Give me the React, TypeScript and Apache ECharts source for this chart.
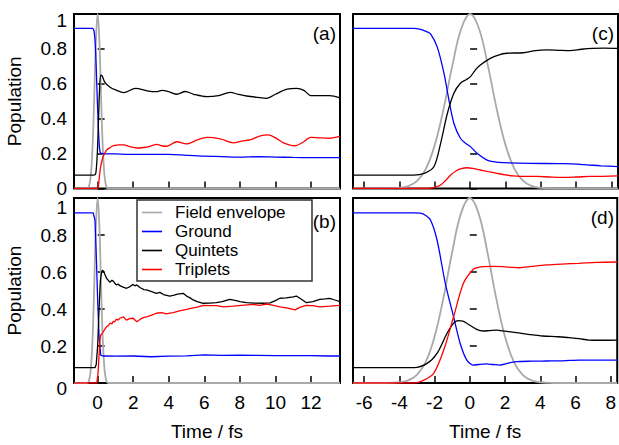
import React, { useEffect, useRef } from "react";
import * as echarts from "echarts";

const FONT = "'Liberation Sans', Arial, Helvetica, sans-serif";

// axis ranges / ticks
const leftRange = [-1.33, 13.63];
const rightRange = [-6.63, 8.37];
const leftTicks = [0, 2, 4, 6, 8, 10, 12];
const rightTicks = [-6, -4, -2, 0, 2, 4, 6, 8];
const seriesNames = ["Field envelope", "Ground", "Quintets", "Triplets"];
const panelLabels = ["(a)", "(b)", "(c)", "(d)"];

// narrow pulse envelope (left panels)
const envLeft = [
  [-1.33, 0], [-0.6, 0], [-0.5, 0.01], [-0.4, 0.06], [-0.3, 0.21], [-0.2, 0.5], [-0.1, 0.84], [0, 1],
  [0.1, 0.84], [0.2, 0.5], [0.3, 0.21], [0.4, 0.06], [0.5, 0.01], [0.6, 0], [13.63, 0],
];
// broad pulse envelope (right panels)
const envRight = [
  [-6.63, 0], [-5, 0], [-4.5, 0.001], [-4, 0.004], [-3.5, 0.014], [-3, 0.044], [-2.5, 0.114], [-2, 0.25],
  [-1.5, 0.458], [-1, 0.707], [-0.5, 0.917], [0, 1], [0.5, 0.917], [1, 0.707], [1.5, 0.458], [2, 0.25],
  [2.5, 0.114], [3, 0.044], [3.5, 0.014], [4, 0.004], [4.5, 0.001], [5, 0], [8.37, 0],
];

// panel (a)
const aGround = [
  [-1.33, 0.918], [-0.3, 0.918], [-0.2, 0.9], [-0.12, 0.8], [-0.05, 0.6], [0.02, 0.4], [0.08, 0.27],
  [0.15, 0.205], [0.3, 0.2], [1, 0.198], [2, 0.195], [3, 0.195], [4, 0.196], [5, 0.19], [6, 0.185],
  [7, 0.183], [8, 0.18], [9, 0.182], [10, 0.18], [11, 0.178], [12, 0.177], [13, 0.177], [13.63, 0.177],
];
const aQuintets = [
  [-1.33, 0.077], [-0.2, 0.077], [-0.1, 0.09], [-0.02, 0.2], [0.05, 0.4], [0.1, 0.55], [0.17, 0.65],
  [0.25, 0.645], [0.4, 0.61], [0.7, 0.58], [1.0, 0.565], [1.47, 0.549], [2.13, 0.574], [2.78, 0.56],
  [3.3, 0.555], [3.62, 0.562], [4.0, 0.555], [4.46, 0.54], [4.93, 0.556], [5.4, 0.54], [6.14, 0.526],
  [6.8, 0.532], [7.45, 0.551], [7.9, 0.54], [8.38, 0.53], [9.0, 0.522], [9.5, 0.517], [10.0, 0.54],
  [10.6, 0.568], [11.2, 0.574], [11.6, 0.562], [12.0, 0.532], [12.5, 0.532], [13.05, 0.532], [13.63, 0.52],
];
const aTriplets = [
  [-1.33, 0], [0.0, 0], [0.05, 0.02], [0.1, 0.07], [0.17, 0.125], [0.3, 0.18], [0.5, 0.22], [0.7, 0.235],
  [0.9, 0.245], [1.2, 0.25], [1.47, 0.25], [1.8, 0.24], [2.2, 0.232], [2.6, 0.235], [2.95, 0.242],
  [3.33, 0.253], [3.6, 0.245], [3.89, 0.242], [4.45, 0.268], [5.0, 0.256], [5.6, 0.278], [6.14, 0.293],
  [6.9, 0.285], [7.63, 0.262], [8.1, 0.272], [8.56, 0.278], [9.1, 0.3], [9.6, 0.307], [10.0, 0.29],
  [10.45, 0.262], [11.1, 0.245], [11.5, 0.262], [12.0, 0.293], [12.5, 0.29], [13.05, 0.288], [13.63, 0.3],
];

// panel (b)
const bGround = [
  [-1.33, 0.92], [-0.25, 0.92], [-0.15, 0.88], [-0.08, 0.7], [0, 0.45], [0.08, 0.25], [0.17, 0.151],
  [0.3, 0.146], [1, 0.145], [2, 0.146], [3, 0.142], [4, 0.145], [5, 0.147], [6, 0.152], [7, 0.149],
  [8, 0.15], [9, 0.149], [10, 0.148], [11, 0.148], [12, 0.148], [13, 0.146], [13.63, 0.146],
];
const bQuintets = [
  [-1.33, 0.083], [-0.15, 0.083], [-0.08, 0.1], [0, 0.2], [0.08, 0.4], [0.15, 0.55], [0.22, 0.6],
  [0.28, 0.61], [0.35, 0.6], [0.5, 0.566], [0.6, 0.555], [0.69, 0.544], [0.8, 0.555], [0.88, 0.551],
  [1.0, 0.535], [1.06, 0.53], [1.15, 0.535], [1.25, 0.526], [1.4, 0.52], [1.62, 0.512], [1.8, 0.52],
  [2.0, 0.533], [2.1, 0.525], [2.2, 0.53], [2.4, 0.515], [2.6, 0.505], [2.75, 0.503], [3.0, 0.495],
  [3.3, 0.485], [3.5, 0.49], [3.7, 0.478], [4.06, 0.47], [4.3, 0.475], [4.5, 0.48], [4.81, 0.485],
  [5.0, 0.47], [5.2, 0.46], [5.37, 0.449], [5.6, 0.44], [5.93, 0.431], [6.3, 0.432], [6.68, 0.434],
  [7.0, 0.44], [7.43, 0.452], [7.8, 0.445], [8.0, 0.44], [8.37, 0.434], [8.8, 0.432], [9.3, 0.431],
  [9.7, 0.433], [10.0, 0.445], [10.25, 0.458], [10.6, 0.46], [11.0, 0.465], [11.18, 0.47], [11.5, 0.45],
  [11.74, 0.434], [12.1, 0.44], [12.5, 0.452], [12.8, 0.455], [13.05, 0.458], [13.3, 0.45], [13.63, 0.44],
];
const bTriplets = [
  [-1.33, 0], [-0.05, 0], [0.02, 0.05], [0.08, 0.15], [0.13, 0.23], [0.17, 0.26], [0.24, 0.265],
  [0.31, 0.277], [0.4, 0.29], [0.5, 0.304], [0.6, 0.31], [0.69, 0.323], [0.8, 0.32], [0.88, 0.333],
  [0.95, 0.33], [1.06, 0.346], [1.15, 0.34], [1.25, 0.35], [1.44, 0.358], [1.62, 0.34], [1.8, 0.348],
  [2.0, 0.35], [2.2, 0.331], [2.4, 0.345], [2.6, 0.355], [2.75, 0.358], [3.0, 0.365], [3.3, 0.377],
  [3.6, 0.38], [3.87, 0.373], [4.05, 0.378], [4.25, 0.38], [4.6, 0.39], [5.0, 0.398], [5.3, 0.405],
  [5.6, 0.41], [5.93, 0.42], [6.3, 0.418], [6.68, 0.418], [7.1, 0.412], [7.62, 0.416], [8.1, 0.42],
  [8.74, 0.425], [9.1, 0.42], [9.5, 0.427], [9.9, 0.42], [10.25, 0.412], [10.7, 0.405], [11.1, 0.395],
  [11.4, 0.41], [11.74, 0.42], [12.1, 0.418], [12.5, 0.412], [13.05, 0.415], [13.63, 0.42],
];

// panel (c)
const cGround = [
  [-6.63, 0.918], [-3.2, 0.918], [-2.8, 0.912], [-2.5, 0.9], [-2.23, 0.885], [-1.86, 0.81], [-1.48, 0.66],
  [-1.2, 0.507], [-0.92, 0.374], [-0.55, 0.288], [-0.2, 0.255], [0.02, 0.24], [0.39, 0.202], [0.96, 0.163],
  [1.4, 0.152], [1.89, 0.148], [3.39, 0.144], [5.26, 0.142], [6.39, 0.137], [7.4, 0.13], [8.37, 0.125],
];
const cQuintets = [
  [-6.63, 0.077], [-3.2, 0.077], [-2.6, 0.087], [-2.05, 0.125], [-1.67, 0.259], [-1.29, 0.43], [-0.92, 0.546],
  [-0.55, 0.603], [-0.2, 0.625], [0.02, 0.641], [0.3, 0.68], [0.58, 0.708], [1.14, 0.746], [1.6, 0.765],
  [2.08, 0.775], [3.01, 0.778], [3.7, 0.79], [4.33, 0.794], [5.0, 0.792], [5.64, 0.79], [6.3, 0.798],
  [6.95, 0.803], [7.6, 0.805], [8.37, 0.803],
];
const cTriplets = [
  [-6.63, 0], [-2.6, 0], [-2.23, 0.002], [-1.9, 0.01], [-1.67, 0.02], [-1.4, 0.045], [-1.1, 0.077],
  [-0.8, 0.1], [-0.55, 0.112], [-0.17, 0.119], [0.2, 0.114], [0.58, 0.106], [1.0, 0.097], [1.52, 0.087],
  [2.0, 0.078], [2.45, 0.072], [3.1, 0.069], [3.77, 0.069], [4.5, 0.066], [5.26, 0.064], [6.0, 0.066],
  [6.76, 0.069], [7.5, 0.07], [8.37, 0.072],
];

// panel (d)
const dGround = [
  [-6.63, 0.92], [-3.2, 0.92], [-2.8, 0.918], [-2.5, 0.905], [-2.23, 0.881], [-1.86, 0.773], [-1.39, 0.539],
  [-0.92, 0.358], [-0.55, 0.215], [-0.17, 0.124], [0.2, 0.097], [0.5, 0.1], [0.96, 0.103], [1.3, 0.1],
  [1.7, 0.097], [2.2, 0.108], [2.64, 0.115], [3.5, 0.118], [4.33, 0.119], [5.3, 0.12], [6.2, 0.124],
  [7.3, 0.124], [8.37, 0.124],
];
const dQuintets = [
  [-6.63, 0.083], [-3.17, 0.083], [-2.42, 0.106], [-1.86, 0.16], [-1.29, 0.269], [-0.9, 0.325],
  [-0.64, 0.337], [-0.4, 0.335], [-0.17, 0.323], [0.39, 0.29], [0.77, 0.281], [1.1, 0.283], [1.52, 0.286],
  [2.0, 0.28], [2.64, 0.272], [3.4, 0.262], [4.14, 0.254], [5.0, 0.25], [5.64, 0.245], [6.2, 0.24],
  [6.76, 0.232], [7.5, 0.231], [8.37, 0.232],
];
const dTriplets = [
  [-6.63, 0], [-3.2, 0], [-2.6, 0.016], [-2.05, 0.052], [-1.48, 0.178], [-0.92, 0.358], [-0.36, 0.539],
  [0.2, 0.615], [0.5, 0.625], [0.77, 0.629], [1.3, 0.63], [1.89, 0.629], [2.4, 0.625], [2.83, 0.623],
  [3.5, 0.63], [4.33, 0.638], [5.2, 0.643], [6.2, 0.647], [7.2, 0.652], [8.37, 0.654],
];

const COLORS = ["#a9a9a9", "#0000ff", "#000000", "#ff0000"];
const WIDTHS = [1.8, 1.3, 1.3, 1.3];

const panels = [
  { env: envLeft, ground: aGround, quint: aQuintets, trip: aTriplets, smooth: 0.3 },
  { env: envLeft, ground: bGround, quint: bQuintets, trip: bTriplets, smooth: 0 },
  { env: envRight, ground: cGround, quint: cQuintets, trip: cTriplets, smooth: 0.3 },
  { env: envRight, ground: dGround, quint: dQuintets, trip: dTriplets, smooth: 0.3 },
];

const grids = [
  { left: 74, top: 14, width: 266, height: 174.5 },
  { left: 74, top: 198, width: 266, height: 185 },
  { left: 353, top: 14, width: 265, height: 174.5 },
  { left: 353, top: 198, width: 265, height: 185 },
];

function buildOption() {
  const tickStyle = { show: true, inside: true, length: 7, lineStyle: { color: "#000", width: 1.5 } };
  const labelFont = { color: "#000", fontSize: 19, fontFamily: FONT };
  const xAxis = grids.map((_, i) => {
    const isLeft = i < 2;
    const bottom = i === 1 || i === 3;
    const ticks = isLeft ? leftTicks : rightTicks;
    const range = isLeft ? leftRange : rightRange;
    return {
      type: "value",
      gridIndex: i,
      min: range[0],
      max: range[1],
      splitLine: { show: false },
      axisLine: { show: false },
      axisTick: { ...tickStyle, customValues: ticks },
      axisLabel: { show: bottom, customValues: ticks, margin: 10, ...labelFont },
      name: bottom ? "Time / fs" : "",
      nameLocation: "middle",
      nameGap: 39,
      nameTextStyle: { ...labelFont },
    };
  });
  const yAxis = grids.map((_, i) => {
    const isLeft = i < 2;
    const botPad = i === 0 ? 0 : 10;
    const topPad = i === 0 ? 13 : 19;
    return {
      type: "value",
      gridIndex: i,
      min: 0,
      max: 1,
      interval: 0.2,
      splitLine: { show: false },
      axisLine: { show: false },
      axisTick: { ...tickStyle },
      axisLabel: {
        show: isLeft,
        margin: 7,
        ...labelFont,
        formatter: (v: number) => (v === 1 ? "{top|1}" : v === 0 ? "{bot|0}" : String(v)),
        rich: {
          top: { ...labelFont, padding: [topPad, 0, 0, 0] },
          bot: { ...labelFont, padding: [botPad, 0, 0, 0] },
        },
      },
      name: isLeft ? "Population" : "",
      nameLocation: "middle",
      nameGap: 50,
      nameTextStyle: { ...labelFont },
    };
  });
  const series: any[] = [];
  panels.forEach((p, i) => {
    const datas = [p.env, p.ground, p.quint, p.trip];
    datas.forEach((d, k) => {
      series.push({
        type: "line",
        name: seriesNames[k],
        xAxisIndex: i,
        yAxisIndex: i,
        data: d,
        showSymbol: false,
        symbol: "none",
        smooth: k === 0 ? 0.4 : p.smooth,
        lineStyle: { color: COLORS[k], width: WIDTHS[k] },
        itemStyle: { color: COLORS[k] },
        z: 2 + k,
      });
    });
  });
  const labelPos = [
    [336, 33],
    [336, 221],
    [614, 33],
    [614, 217],
  ];
  const graphic: any[] = panelLabels.map((t, i) => ({
    type: "text",
    x: labelPos[i][0],
    y: labelPos[i][1],
    z: 10,
    style: { text: t, fill: "#000", font: `19px ${FONT}`, align: "right", verticalAlign: "middle" },
  }));
  graphic.push({
    type: "rect",
    shape: { x: 137, y: 200, width: 175, height: 81 },
    style: { fill: "#fff", stroke: "#333", lineWidth: 1.5 },
    z: 5,
  });
  return {
    animation: false,
    backgroundColor: "#fff",
    grid: grids.map((g) => ({ ...g, show: true, borderColor: "#000", borderWidth: 2, backgroundColor: "transparent" })),
    xAxis,
    yAxis,
    series,
    graphic,
    legend: {
      data: seriesNames.map((n, k) => ({ name: n, icon: "rect", itemStyle: { color: COLORS[k] } })),
      orient: "vertical",
      left: 142,
      top: 203,
      padding: 0,
      itemWidth: 20,
      itemHeight: 1.6,
      itemGap: 0,
      z: 20,
      selectedMode: false,
      textStyle: { color: "#000", fontSize: 17, fontFamily: FONT, lineHeight: 19, padding: [0, 0, 0, 8] },
    },
  };
}

export default function App() {
  const ref = useRef<HTMLDivElement>(null);
  useEffect(() => {
    const chart = echarts.init(ref.current!, null, { renderer: "svg" });
    chart.setOption(buildOption() as any);
    return () => chart.dispose();
  }, []);
  return (
    <div
      ref={ref}
      style={{ position: "fixed", left: 0, top: 0, width: 619, height: 445, background: "#fff" }}
    />
  );
}
